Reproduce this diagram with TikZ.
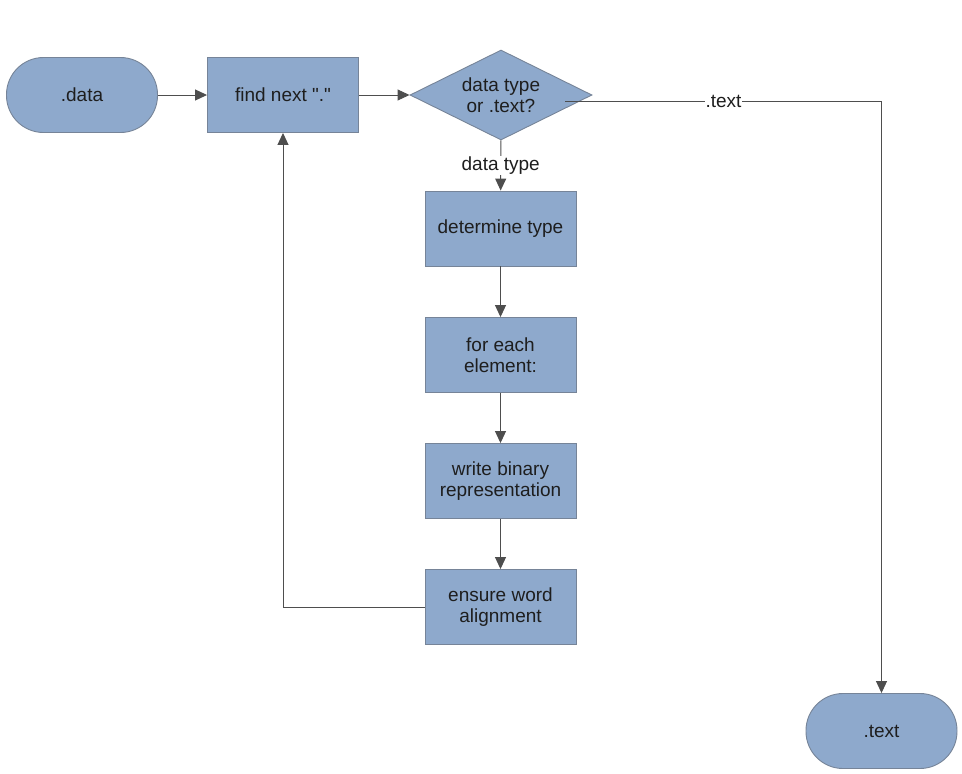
\documentclass[tikz,border=0pt]{standalone}
\usepackage{fontspec}
\setmainfont{Liberation Sans}
\usetikzlibrary{shapes.geometric,arrows.meta,calc}

\definecolor{boxfill}{RGB}{142,169,204}
\definecolor{boxline}{RGB}{118,132,152}
\definecolor{flowline}{RGB}{78,78,78}
\definecolor{labeltext}{RGB}{30,30,30}

\begin{document}
\begin{tikzpicture}[x=1pt,y=-1pt,
    font=\fontsize{19}{21}\selectfont, text=labeltext,
    procbox/.style={rectangle,draw=boxline,fill=boxfill,line width=0.9pt,
        minimum width=151pt,minimum height=75pt,align=center,inner sep=2pt},
    termbox/.style={procbox,rounded corners=37pt},
    decbox/.style={diamond,aspect=2,draw=boxline,fill=boxfill,line width=0.9pt,
        minimum width=182pt,minimum height=90pt,inner sep=0pt,align=center},
    flow/.style={draw=flowline,line width=1pt,-{Triangle[length=12pt,width=11pt]}},
    edgelabel/.style={fill=white,inner sep=1pt}]
        \useasboundingbox (0,0) rectangle (962,774);
        \node[termbox] (dat) at (82,95) {.data};
        \node[procbox] (fnd) at (283,95) {find next \textquotedbl.\textquotedbl};
        \node[decbox] (dec) at (501,95) {data type\\or .text?};
        \node[procbox] (det) at (500.5,228.5) {determine type};
        \node[procbox] (elm) at (500.5,355) {for each\\element:};
        \node[procbox] (bin) at (500.5,481) {write binary\\representation};
        \node[procbox] (ali) at (500.5,607) {ensure word\\alignment};
        \node[termbox] (txt) at (881.5,731) {.text};
        \coordinate (txtout) at ($(dec.east)+(-27,6)$);

        \draw[flow] (dat) -- (fnd);
        \draw[flow] (fnd) -- (dec);
        \draw[flow] (dec) -- node[edgelabel,pos=0.5] {data type} (det);
        \draw[flow] (det) -- (elm);
        \draw[flow] (elm) -- (bin);
        \draw[flow] (bin) -- (ali);
        \draw[flow] (ali.west) -| (fnd.south);
        \draw[flow] (txtout) -| node[edgelabel,pos=0.25] {.text} (txt.north);
\end{tikzpicture}
\end{document}
